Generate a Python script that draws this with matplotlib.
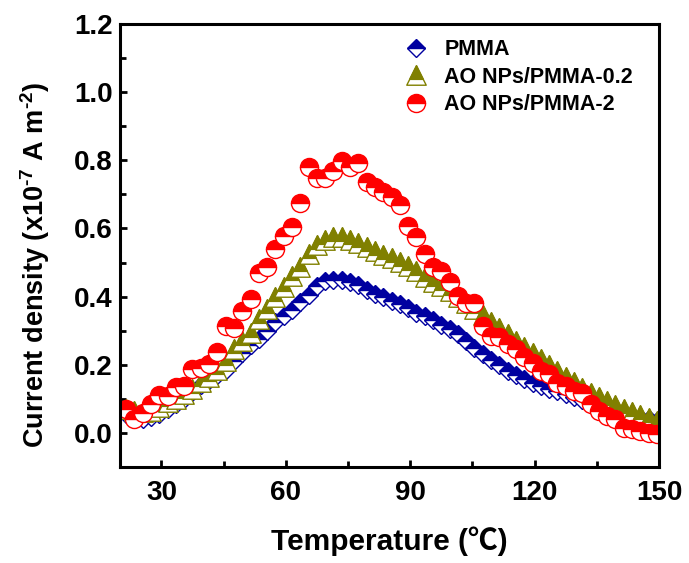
import numpy as np
import matplotlib
matplotlib.use("Agg")
import matplotlib.pyplot as plt
from matplotlib.path import Path
from matplotlib.lines import Line2D
from matplotlib.legend_handler import HandlerTuple
from matplotlib.ticker import MultipleLocator, FormatStrFormatter

plt.rcParams['font.family'] = ['Liberation Sans', 'Noto Sans CJK SC', 'DejaVu Sans']
plt.rcParams['font.weight'] = 'bold'
plt.rcParams['mathtext.fontset'] = 'custom'
plt.rcParams['mathtext.rm'] = 'Liberation Sans:bold'
plt.rcParams['mathtext.bf'] = 'Liberation Sans:bold'
plt.rcParams['mathtext.it'] = 'Liberation Sans:bold'
plt.rcParams['axes.unicode_minus'] = False

# ---------------- data ----------------
temps = [21.5, 23.5, 25.5, 27.5, 29.5, 31.5, 33.5, 35.5, 37.5, 39.5,
         41.5, 43.5, 45.5, 47.5, 49.5, 51.5, 53.5, 55.5, 57.5, 59.5,
         61.5, 63.5, 65.5, 67.5, 69.5, 71.5, 73.5, 75.5, 77.5, 79.5,
         81.5, 83.5, 85.5, 87.5, 89.5, 91.5, 93.5, 95.5, 97.5, 99.5,
         101.5, 103.5, 105.5, 107.5, 109.5, 111.5, 113.5, 115.5, 117.5, 119.5,
         121.5, 123.5, 125.5, 127.5, 129.5, 131.5, 133.5, 135.5, 137.5, 139.5,
         141.5, 143.5, 145.5, 147.5, 149.5]

pmma = [0.055, 0.045, 0.040, 0.047, 0.056, 0.070, 0.085, 0.100, 0.120, 0.140,
        0.155, 0.170, 0.185, 0.210, 0.235, 0.258, 0.275, 0.300, 0.325, 0.342,
        0.360, 0.383, 0.405, 0.430, 0.445, 0.450, 0.449, 0.444, 0.434, 0.420,
        0.408, 0.398, 0.388, 0.379, 0.366, 0.353, 0.342, 0.330, 0.316, 0.305,
        0.290, 0.270, 0.250, 0.232, 0.215, 0.198, 0.183, 0.170, 0.158, 0.147,
        0.138, 0.130, 0.122, 0.114, 0.106, 0.098, 0.090, 0.082, 0.073, 0.065,
        0.058, 0.051, 0.045, 0.040, 0.036]

ao_02 = [0.070, 0.065, 0.060, 0.065, 0.075, 0.090, 0.100, 0.115, 0.130, 0.150,
         0.165, 0.185, 0.210, 0.245, 0.270, 0.294, 0.335, 0.365, 0.400, 0.428,
         0.460, 0.488, 0.525, 0.552, 0.566, 0.574, 0.574, 0.566, 0.556, 0.545,
         0.535, 0.522, 0.512, 0.502, 0.490, 0.474, 0.457, 0.442, 0.430, 0.415,
         0.400, 0.382, 0.365, 0.345, 0.326, 0.309, 0.291, 0.270, 0.253, 0.235,
         0.218, 0.200, 0.182, 0.165, 0.148, 0.133, 0.118, 0.106, 0.094, 0.082,
         0.071, 0.062, 0.052, 0.043, 0.035]

ao_2 = [0.071, 0.041, 0.059, 0.085, 0.112, 0.109, 0.135, 0.138, 0.188, 0.191,
        0.203, 0.238, 0.315, 0.309, 0.359, 0.394, 0.468, 0.488, 0.541, 0.579,
        0.603, 0.674, 0.779, 0.747, 0.747, 0.768, 0.797, 0.779, 0.791, 0.735,
        0.721, 0.706, 0.691, 0.668, 0.606, 0.574, 0.526, 0.488, 0.476, 0.444,
        0.403, 0.382, 0.382, 0.315, 0.285, 0.282, 0.262, 0.247, 0.224, 0.206,
        0.182, 0.174, 0.147, 0.138, 0.124, 0.118, 0.085, 0.065, 0.050, 0.041,
        0.015, 0.012, 0.006, 0.000, -0.003]

labels = ['PMMA', 'AO NPs/PMMA-0.2', 'AO NPs/PMMA-2']
x_ticks = [30, 60, 90, 120, 150]
y_ticks = [0.0, 0.2, 0.4, 0.6, 0.8, 1.0, 1.2]

c_blue = '#0000a0'
c_olive = '#808000'
c_red = '#ff0000'

# custom half-filled triangle (filled upper part)
CODES = [Path.MOVETO, Path.LINETO, Path.LINETO, Path.CLOSEPOLY]
tri_full = Path([(0, 1), (-1, -1), (1, -1), (0, 1)], CODES)
split = -0.4
hw = (1 - split) / 2
tri_top = Path([(0, 1), (-hw, split), (hw, split), (0, 1)], CODES)

fig = plt.figure(figsize=(6.89, 5.63), dpi=100)
ax = fig.add_axes([0.174, 0.1705, 0.7825, 0.787])

ms_d, ms_t, ms_o = 9.5, 14, 13
mew = 1.0

for x, y in zip(temps, pmma):
    ax.plot([x], [y], ls='none', marker='D', ms=ms_d, fillstyle='top',
            mfc=c_blue, markerfacecoloralt='white', mec=c_blue, mew=mew)
for x, y in zip(temps, ao_02):
    ax.plot([x], [y], ls='none', marker=tri_full, ms=ms_t, mfc='white',
            mec=c_olive, mew=mew)
    ax.plot([x], [y], ls='none', marker=tri_top, ms=ms_t, mfc=c_olive,
            mec=c_olive, mew=mew)
for x, y in zip(temps, ao_2):
    ax.plot([x], [y], ls='none', marker='o', ms=ms_o, fillstyle='top',
            mfc=c_red, markerfacecoloralt='white', mec=c_red, mew=mew)

ax.set_xlim(20, 150)
ax.set_ylim(-0.1, 1.2)
ax.set_xticks(x_ticks)
ax.set_yticks(y_ticks)
ax.xaxis.set_minor_locator(MultipleLocator(15))
ax.yaxis.set_minor_locator(MultipleLocator(0.1))
ax.yaxis.set_major_formatter(FormatStrFormatter('%.1f'))
ax.tick_params(which='both', direction='in', top=False, right=False, width=2)
ax.tick_params(which='major', length=5, labelsize=20)
ax.tick_params(which='minor', length=4)
ax.tick_params(axis='x', which='major', pad=9)
ax.tick_params(axis='y', which='major', pad=5)
for s in ax.spines.values():
    s.set_linewidth(2.2)

ax.set_xlabel('Temperature (℃)', fontsize=21.5, fontweight='bold', labelpad=15)
ax.set_ylabel(r'Current density (x10$^{\text{-7}}$ A m$^{\text{-2}}$)',
              fontsize=19.5, fontweight='bold')
ax.yaxis.set_label_coords(-0.125, 0.456)

h_d = Line2D([], [], ls='none', marker='D', ms=ms_d, fillstyle='top', mfc=c_blue,
             markerfacecoloralt='white', mec=c_blue, mew=mew)
h_t1 = Line2D([], [], ls='none', marker=tri_full, ms=ms_t, mfc='white', mec=c_olive, mew=mew)
h_t2 = Line2D([], [], ls='none', marker=tri_top, ms=ms_t, mfc=c_olive, mec=c_olive, mew=mew)
h_o = Line2D([], [], ls='none', marker='o', ms=ms_o, fillstyle='top', mfc=c_red,
             markerfacecoloralt='white', mec=c_red, mew=mew)
ax.legend([h_d, (h_t1, h_t2), h_o], labels, loc='upper left',
          bbox_to_anchor=(0.51, 0.99), frameon=False, borderpad=0,
          handlelength=1.0, handletextpad=0.8, labelspacing=0.3,
          prop={'weight': 'bold', 'size': 15.5},
          handler_map={tuple: HandlerTuple(ndivide=1, pad=0)})

fig.savefig('out.png', dpi=100, facecolor='white')
